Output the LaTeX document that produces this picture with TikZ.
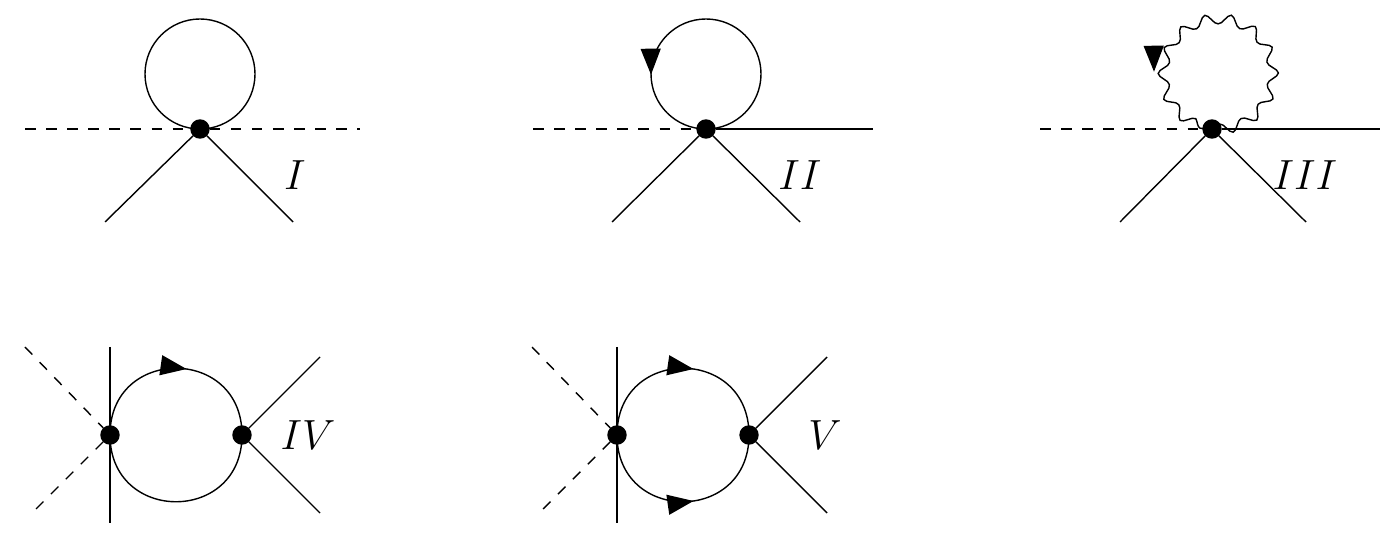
\documentclass[tikz,border=0pt]{standalone}
\usetikzlibrary{positioning,calc,decorations.markings,decorations.pathmorphing,arrows.meta}

\begin{document}
\begin{tikzpicture}[vertex/.style={circle,draw,fill=black,inner sep=0pt,minimum size=0.18cm},
        scalar/.style={dashed},
        fermion/.style={postaction={decorate},decoration={markings,mark=at position #1 with {\arrow{Triangle[length=0.26cm,width=0.2cm]}}}},
        photon/.style={decorate,decoration={snake,segment length=0.245cm,amplitude=0.05cm}},
        lbl/.style={font=\large}]
    \useasboundingbox (0,0) rectangle (13.95,5.37);

    % tadpole I
    \node[vertex] (v1) at (2.00,4.08) {};
    \coordinate (s1l) at (0.25,4.08);
    \coordinate (s1r) at (3.60,4.08);
    \coordinate (f1l) at (1.05,3.15);
    \coordinate (f1r) at (2.93,3.15);
    \draw[scalar] (s1l) -- (v1) -- (s1r);
    \draw (v1) -- (f1l);
    \draw (v1) -- (f1r);
    \draw (v1.center) arc (-90:270:0.55);
    \node[lbl] (l1) at (2.95,3.62) {$I$};

    % tadpole II
    \node[vertex] (v2) at (7.06,4.08) {};
    \coordinate (s2l) at (5.33,4.08);
    \coordinate (s2r) at (8.73,4.08);
    \coordinate (f2l) at (6.12,3.15);
    \coordinate (f2r) at (8.00,3.15);
    \draw[scalar] (s2l) -- (v2);
    \draw (v2) -- (s2r);
    \draw (v2) -- (f2l);
    \draw (v2) -- (f2r);
    \draw[fermion=0.752] (v2.center) arc (-90:270:0.55);
    \node[lbl] (l2) at (8.00,3.62) {$II$};

    % tadpole III
    \node[vertex] (v3) at (12.12,4.08) {};
    \coordinate (s3l) at (10.40,4.08);
    \coordinate (s3r) at (13.80,4.08);
    \coordinate (f3l) at (11.20,3.15);
    \coordinate (f3r) at (13.06,3.15);
    \draw[scalar] (s3l) -- (v3);
    \draw (v3) -- (s3r);
    \draw (v3) -- (f3l);
    \draw (v3) -- (f3r);
    \draw[photon] (v3.center) arc (-90:270:0.55);
    \path[fermion=0.752] (v3.center) arc (-90:270:0.58);
    \node[lbl] (l3) at (13.05,3.62) {$III$};

    % bubble IV
    \node[vertex] (a4) at (1.10,1.02) {};
    \node[vertex] (b4) at (2.42,1.02) {};
    \coordinate (t4) at (1.10,1.90);
    \coordinate (d4) at (1.10,0.14);
    \coordinate (s4u) at (0.25,1.90);
    \coordinate (s4d) at (0.30,0.22);
    \coordinate (f4u) at (3.20,1.80);
    \coordinate (f4d) at (3.20,0.24);
    \draw (t4) -- (d4);
    \draw[scalar] (s4u) -- (a4) -- (s4d);
    \draw (b4) -- (f4u);
    \draw (b4) -- (f4d);
    \draw[fermion=0.55] (a4.center) .. controls (1.10,1.91) and (2.42,1.91) .. (b4.center);
    \draw (a4.center) .. controls (1.10,0.13) and (2.42,0.13) .. (b4.center);
    \node[lbl] (l4) at (3.08,1.02) {$IV$};

    % bubble V
    \node[vertex] (a5) at (6.17,1.02) {};
    \node[vertex] (b5) at (7.49,1.02) {};
    \coordinate (t5) at (6.17,1.90);
    \coordinate (d5) at (6.17,0.14);
    \coordinate (s5u) at (5.32,1.90);
    \coordinate (s5d) at (5.37,0.22);
    \coordinate (f5u) at (8.27,1.80);
    \coordinate (f5d) at (8.27,0.24);
    \draw (t5) -- (d5);
    \draw[scalar] (s5u) -- (a5) -- (s5d);
    \draw (b5) -- (f5u);
    \draw (b5) -- (f5d);
    \draw[fermion=0.55] (a5.center) .. controls (6.17,1.91) and (7.49,1.91) .. (b5.center);
    \draw[fermion=0.55] (a5.center) .. controls (6.17,0.13) and (7.49,0.13) .. (b5.center);
    \node[lbl] (l5) at (8.25,1.02) {$V$};
\end{tikzpicture}
\end{document}
